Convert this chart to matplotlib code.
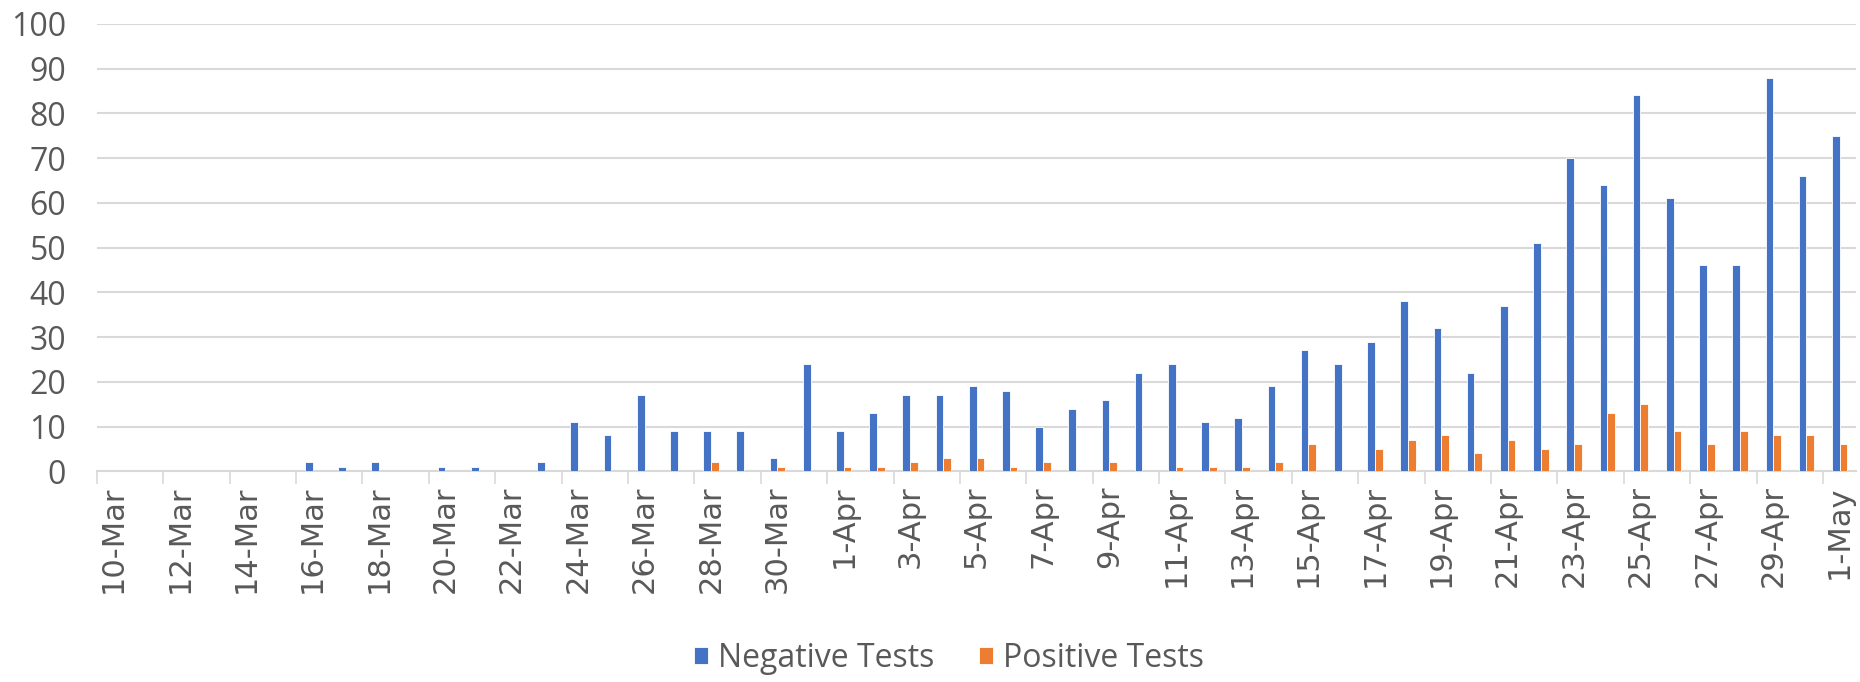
import numpy as np
import pandas as pd
import matplotlib
matplotlib.use("Agg")
import matplotlib.pyplot as plt
from matplotlib.ticker import FixedLocator, MultipleLocator

dates = pd.date_range("2020-03-10", "2020-05-01", freq="D")
labels = [f"{d.day}-{d.strftime('%b')}" for d in dates]

negative = [0, 0, 0, 0, 0, 0, 2, 1, 2, 0, 1, 1, 0, 2, 11, 8, 17, 9, 9, 9, 3, 24,
            9, 13, 17, 17, 19, 18, 10, 14, 16, 22, 24, 11, 12, 19, 27, 24, 29, 38,
            32, 22, 37, 51, 70, 64, 84, 61, 46, 46, 88, 66, 75]
positive = [0, 0, 0, 0, 0, 0, 0, 0, 0, 0, 0, 0, 0, 0, 0, 0, 0, 0, 2, 0, 1, 0,
            1, 1, 2, 3, 3, 1, 2, 0, 2, 0, 1, 1, 1, 2, 6, 0, 5, 7,
            8, 4, 7, 5, 6, 13, 15, 9, 6, 9, 8, 8, 6]

blue = "#4472C4"
orange = "#ED7D31"
grid_c = "#D9D9D9"
text_c = "#595959"

fig = plt.figure(figsize=(18.6, 6.82), dpi=100)
ax = fig.add_axes([0.052, 0.309, 0.946, 0.656])

x = np.arange(len(labels))
w = 0.23
ax.bar(x - w / 2, negative, w, color=blue, edgecolor="white", linewidth=0.6,
       label="Negative Tests", zorder=3)
ax.bar(x + w / 2, positive, w, color=orange, edgecolor="white", linewidth=0.6,
       label="Positive Tests", zorder=3)

ax.set_xlim(-0.5, len(labels) - 0.5)
ax.set_ylim(0, 100)
ax.yaxis.set_major_locator(MultipleLocator(10))
ax.grid(axis="y", color=grid_c, linewidth=1.5, zorder=0)

for s in ["top", "left", "right"]:
    ax.spines[s].set_visible(False)
ax.spines["bottom"].set_color(grid_c)
ax.spines["bottom"].set_linewidth(1.5)

ax.set_xticks(x[::2])
ax.set_xticklabels(labels[::2], rotation=90, fontsize=22, color=text_c,
                   family="DejaVu Sans")
ax.xaxis.set_minor_locator(FixedLocator(np.arange(-0.5, len(labels) - 0.5, 2)))
ax.tick_params(axis="x", which="major", length=0, pad=10)
ax.tick_params(axis="x", which="minor", length=9, width=1.2, color=grid_c)
ax.tick_params(axis="y", length=0, pad=22)
for t in ax.get_yticklabels():
    t.set_fontsize(23)
    t.set_color(text_c)
    t.set_family("Open Sans")

leg = fig.legend(loc="center", bbox_to_anchor=(0.51, 0.035), ncol=2,
                 frameon=False, prop={"family": "Open Sans", "size": 23},
                 handlelength=0.45, handleheight=0.45, handletextpad=0.3,
                 columnspacing=1.4)
for t in leg.get_texts():
    t.set_color(text_c)

fig.savefig("out.png", dpi=100)
